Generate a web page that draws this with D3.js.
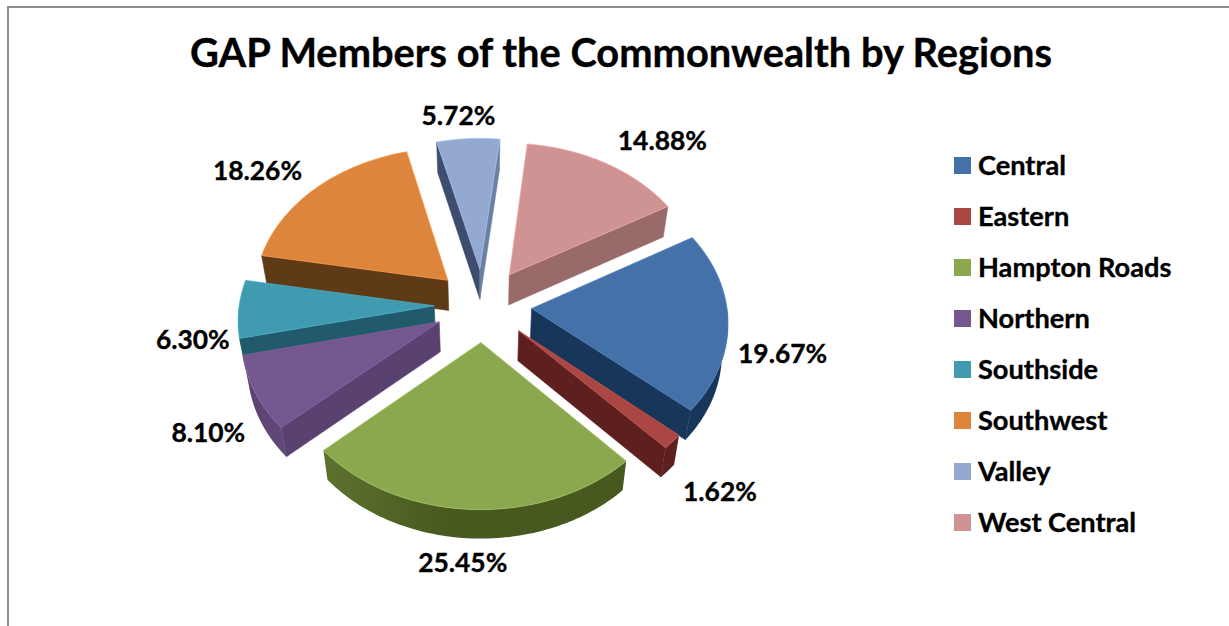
<!DOCTYPE html>
<html>
<head>
<meta charset="utf-8">
<script src="https://cdn.jsdelivr.net/npm/d3@7/dist/d3.min.js"></script>
<style>
  html, body { margin: 0; padding: 0; background: #fff; }
  svg { display: block; }
  text { font-family: Lato, "Open Sans", sans-serif; font-weight: 700; fill: #000; stroke: #000; stroke-width: 0.35px; }
</style>
</head>
<body>
<svg id="chart" width="1229" height="626"></svg>
<script>
// GAP membership share per region
const chartTitle = "GAP Members of the Commonwealth by Regions";
const regions = ["Central", "Eastern", "Hampton Roads", "Northern", "Southside", "Southwest", "Valley", "West Central"];
const shares = [19.67, 1.62, 25.45, 8.10, 6.30, 18.26, 5.72, 14.88];
const faceColors = ["#4472a8", "#aa4644", "#8ba84e", "#75578f", "#419bb0", "#dd853d", "#94a9d0", "#d09393"];
const wallColors = ["#18355a", "#5e1f1f", "#47591f", "#5a4270", "#205a6b", "#5e3a16", "#3c4d6e", "#996a6a"];

// Offset of each percentage label from its default spot on the label ring
const labelNudgeX = [5, 6, -6, 1, 3, -28, -7, 34];
const labelNudgeY = [27, 19, 6, 20, 29, 4, 6, 2];

const svg = d3.select("#chart");
const defs = svg.append("defs");

// Frame of the chart area: only the top and left edges fall inside the page
svg.append("path")
  .attr("d", "M8,626V7H1229")
  .attr("fill", "none")
  .attr("stroke", "#8e8e8e")
  .attr("stroke-width", 2);

svg.append("text")
  .attr("x", 621).attr("y", 67)
  .attr("text-anchor", "middle")
  .attr("font-size", 39.8)
  .text(chartTitle);

// Perspective view of the tilted pie
const view = {
  cx: 483, cy: 305,
  rx: 195, ry: 147,
  persp: 0.0817,
  explode: 0.25,
  drop: 30,
  baseScaleX: 0.975,
  baseScaleY: 0.995
};

// Maps a point on the disc to the page; level 0 is the top face, level 1 the base
function project(u, v, level) {
  const s = 1 / (1 - view.persp * v);
  return [
    view.cx + u * view.rx * s * (level ? view.baseScaleX : 1),
    view.cy + v * view.ry * s * (level ? view.baseScaleY : 1) + (level ? view.drop : 0)
  ];
}

const TAU = Math.PI * 2;
const startAngle = 60 * Math.PI / 180;
const pie = d3.pie().sort(null).startAngle(startAngle).endAngle(startAngle + TAU);
const arcs = pie(shares).map((d, i) => {
  const mid = (d.startAngle + d.endAngle) / 2;
  return {
    i, mid,
    a0: d.startAngle, a1: d.endAngle,
    ox: view.explode * Math.sin(mid),
    oy: -view.explode * Math.cos(mid)
  };
});

const rimPoint = (d, a, level) => project(d.ox + Math.sin(a), d.oy - Math.cos(a), level);
const tipPoint = (d, level) => project(d.ox, d.oy, level);
const sampleAngles = (a0, a1, n) => d3.range(n + 1).map(t => a0 + (a1 - a0) * t / n);
const line = d3.line();
const deg = a => ((a * 180 / Math.PI) % 360 + 360) % 360;
const facesViewer = a => -Math.cos(a) > 0;

// Lighter rim tone where the light catches the lower-left of the pie
const rimLight = d3.scaleLinear()
  .domain([0, 190, 226, 256, 360])
  .range([0, 0, 0.3, 0, 0])
  .clamp(true);

const layer = svg.append("g");

// Back slices first so nearer slices cover them
const drawOrder = arcs.slice().sort((a, b) => -Math.cos(a.mid) - -Math.cos(b.mid));

drawOrder.forEach(d => {
  const g = layer.append("g");
  const face = faceColors[d.i];
  const wall = wallColors[d.i];

  // Cut faces of the wedge, only those turned towards the viewer
  [[d.a0, d.a0 - Math.PI / 2], [d.a1, d.a1 + Math.PI / 2]]
    .filter(([, normal]) => facesViewer(normal))
    .forEach(([a, normal]) => {
      const n = deg(normal);
      const fill = n > 60 && n < 120 ? d3.interpolateRgb(wall, face)(0.55) : wall;
      const pts = [tipPoint(d, 0), rimPoint(d, a, 0), rimPoint(d, a, 1), tipPoint(d, 1)];
      g.append("path").attr("d", line(pts) + "Z")
        .attr("fill", fill).attr("stroke", fill).attr("stroke-width", 0.6);
    });

  // Outer rim, the part on the near half of the disc
  const rim = sampleAngles(d.a0, d.a1, 80).filter(facesViewer);
  if (rim.length > 1) {
    const topEdge = rim.map(a => rimPoint(d, a, 0));
    const baseEdge = rim.map(a => rimPoint(d, a, 1)).reverse();
    const x0 = topEdge[0][0];
    const x1 = topEdge[topEdge.length - 1][0];
    const grad = defs.append("linearGradient")
      .attr("id", "rim" + d.i)
      .attr("gradientUnits", "userSpaceOnUse")
      .attr("x1", x0).attr("x2", x1).attr("y1", 0).attr("y2", 0);
    rim.forEach((a, k) => {
      grad.append("stop")
        .attr("offset", k / (rim.length - 1))
        .attr("stop-color", d3.interpolateRgb(wall, face)(rimLight(deg(a))));
    });
    g.append("path")
      .attr("d", line(topEdge.concat(baseEdge)) + "Z")
      .attr("fill", `url(#rim${d.i})`);
  }

  // Top face
  const top = [tipPoint(d, 0)].concat(sampleAngles(d.a0, d.a1, 60).map(a => rimPoint(d, a, 0)));
  g.append("path")
    .attr("d", line(top) + "Z")
    .attr("fill", face)
    .attr("stroke", d3.rgb(face).brighter(0.4).formatHex())
    .attr("stroke-width", 0.7)
    .attr("stroke-linejoin", "round");
});

// Percentage labels
svg.append("g").selectAll("text")
  .data(arcs)
  .join("text")
  .attr("text-anchor", "middle")
  .attr("dominant-baseline", "central")
  .attr("font-size", 26.4)
  .attr("x", d => project(1.5 * Math.sin(d.mid), -1.5 * Math.cos(d.mid), 0)[0] + labelNudgeX[d.i])
  .attr("y", d => project(1.5 * Math.sin(d.mid), -1.5 * Math.cos(d.mid), 0)[1] + labelNudgeY[d.i])
  .text(d => shares[d.i].toFixed(2) + "%");

// Legend
const legendY = d3.scalePoint().domain(regions).range([165, 522]);
const legend = svg.append("g").selectAll("g")
  .data(regions)
  .join("g")
  .attr("transform", r => `translate(954,${legendY(r)})`);

legend.append("rect")
  .attr("x", 0).attr("y", -8)
  .attr("width", 17).attr("height", 17)
  .attr("fill", (r, i) => faceColors[i]);

legend.append("text")
  .attr("x", 24)
  .attr("y", -1)
  .attr("dominant-baseline", "central")
  .attr("font-size", 27.2)
  .text(r => r);
</script>
</body>
</html>
